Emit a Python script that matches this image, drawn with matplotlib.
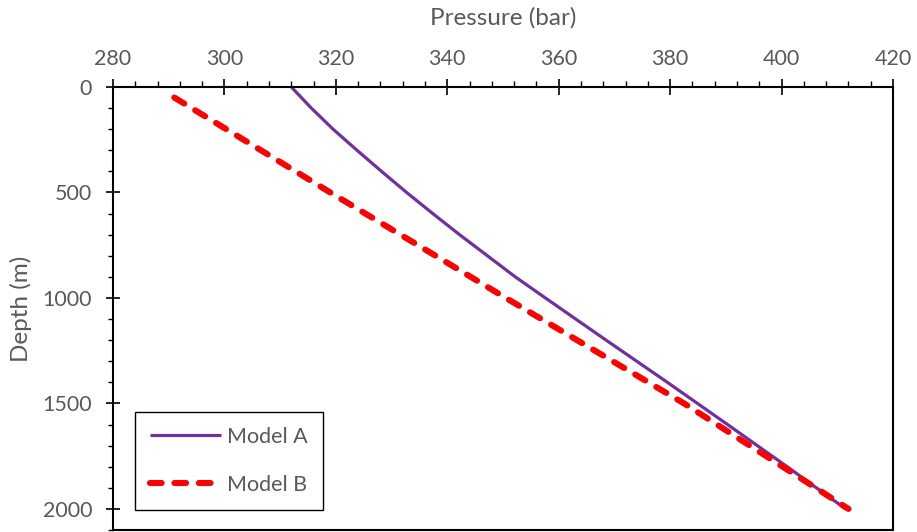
"""Depth vs pressure profile: Model A vs Model B."""
import matplotlib
matplotlib.use("Agg")
import matplotlib.pyplot as plt
import matplotlib.ticker as mticker

# Model A (solid purple)
depth_a = [0, 100, 200, 300, 400, 500, 600, 700, 800, 900, 1000,
           1200, 1400, 1600, 1800, 2000]
pressure_a = [312.0, 315.6, 319.5, 323.8, 328.2, 332.7, 337.4, 342.2, 347.2,
              352.2, 357.6, 368.5, 379.5, 390.3, 401.0, 411.5]

# Model B (dashed red)
depth_b = [50, 500, 1000, 1500, 2000]
pressure_b = [291.0, 319.0, 350.5, 382.5, 412.0]

TEXT = "#595959"
plt.rcParams["font.family"] = ["Lato", "DejaVu Sans"]

fig = plt.figure(figsize=(9.17, 5.32), dpi=100)
ax = fig.add_axes([113 / 917, 2 / 532, 780 / 917, 443 / 532])

ax.plot(pressure_a, depth_a, color="#7030A0", linewidth=2.3, label="Model A",
        solid_capstyle="butt")
ax.plot(pressure_b, depth_b, color="#FF0000", linewidth=4.4, label="Model B",
        dashes=(1.9, 2.1), dash_capstyle="round")

ax.set_xlim(280, 420)
ax.set_ylim(2100, 0)

ax.xaxis.set_major_locator(mticker.MultipleLocator(20))
ax.xaxis.set_minor_locator(mticker.MultipleLocator(4))
ax.yaxis.set_major_locator(mticker.MultipleLocator(500))
ax.yaxis.set_minor_locator(mticker.MultipleLocator(100))

ax.xaxis.tick_top()
ax.xaxis.set_label_position("top")
ax.tick_params(axis="x", which="major", direction="inout", length=11.5, width=1.2,
               labelsize=15.5, labelcolor=TEXT, pad=7.5, top=True, bottom=False)
ax.tick_params(axis="x", which="minor", direction="out", length=4.3, width=1.0,
               top=True, bottom=False)
ax.tick_params(axis="y", which="major", direction="inout", length=10, width=1.2,
               labelsize=15.5, labelcolor=TEXT, pad=10, right=False)
ax.tick_params(axis="y", which="minor", direction="out", length=3.6, width=1.0,
               right=False)

for s in ax.spines.values():
    s.set_linewidth(1.5)
    s.set_color("black")

ax.set_xlabel("Pressure (bar)", fontsize=17.5, color=TEXT)
ax.xaxis.set_label_coords(0.5, 1.14)
ax.set_ylabel("Depth (m)", fontsize=17.5, color=TEXT)
ax.yaxis.set_label_coords(-0.104, 0.5)

leg = ax.legend(loc="lower left", bbox_to_anchor=(0.028, 0.045), borderaxespad=0,
                fontsize=15.5, handlelength=3.3, handletextpad=0.3, labelspacing=1.32,
                borderpad=0.7, fancybox=False, framealpha=1)
leg.get_frame().set_edgecolor("black")
leg.get_frame().set_linewidth(1.0)
for t in leg.get_texts():
    t.set_color(TEXT)

fig.savefig("out.png", dpi=100, facecolor="white")
